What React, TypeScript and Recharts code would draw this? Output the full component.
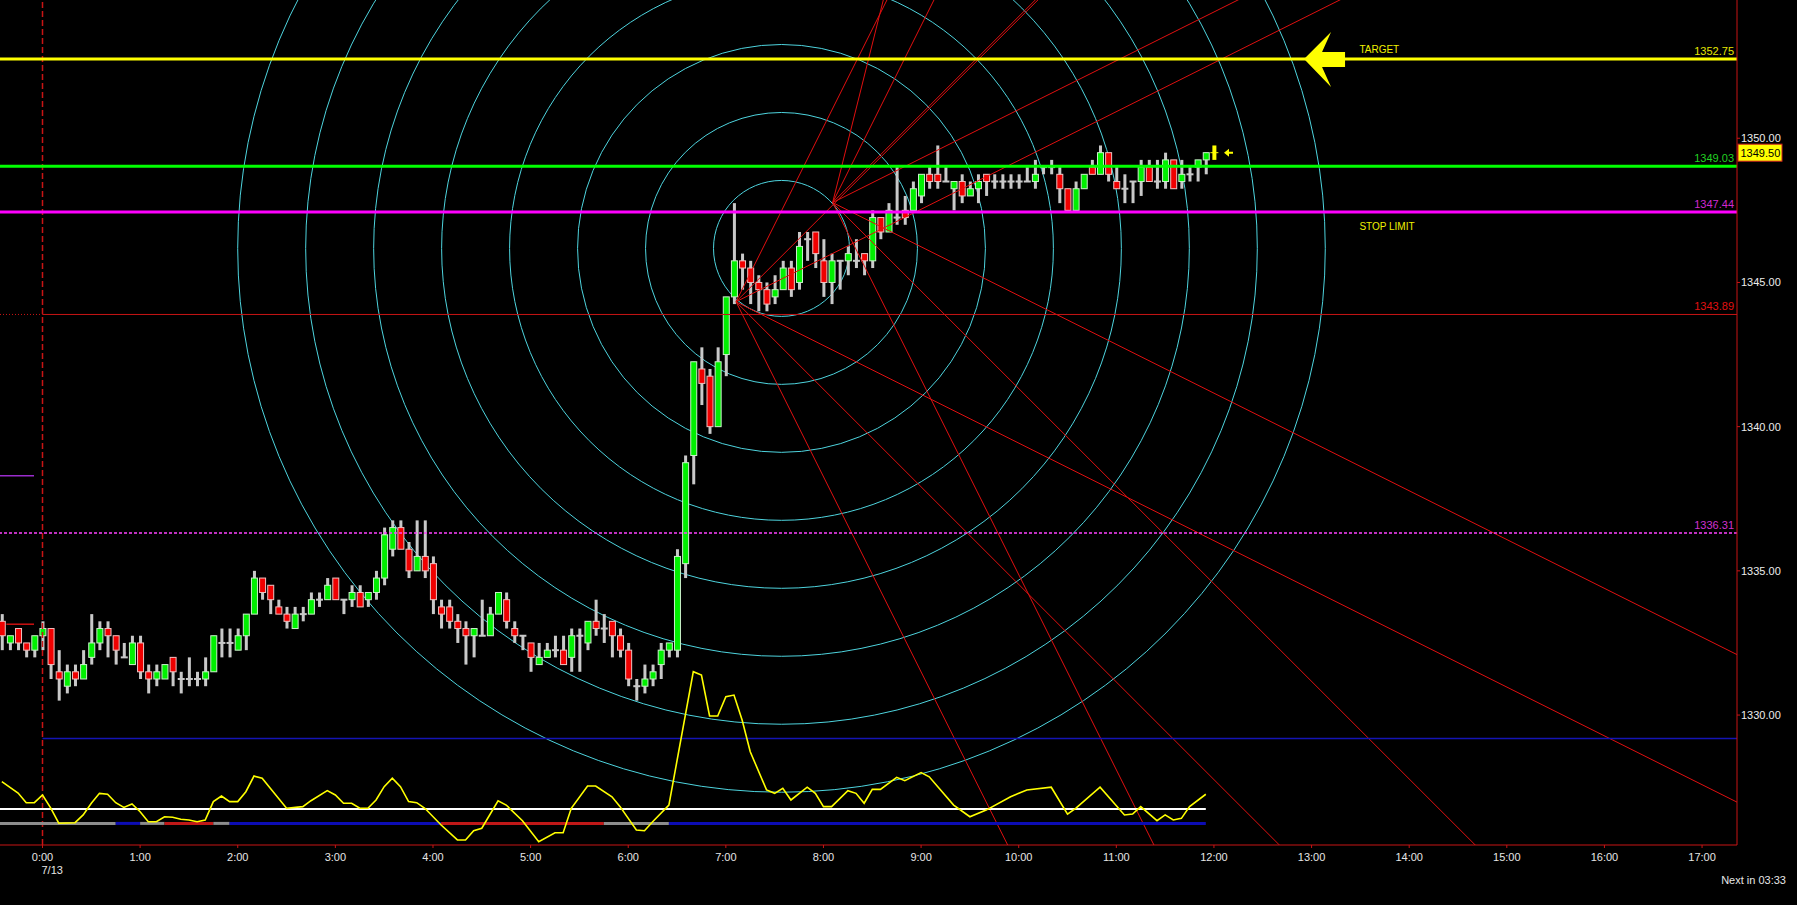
import * as Recharts from 'recharts';
import { ComposedChart, Bar, Line, XAxis, YAxis, ReferenceLine, Customized } from 'recharts';

const RC: any = Recharts;

// 5-minute bars; bar 0 is 0:00 on 7/13, the first one is 23:35 the evening before
const FIRST_BAR = -5;

const opens = [
  1333.25, 1332.5, 1333.0, 1332.5, 1332.25, 1332.75, 1333.0, 1331.5, 1331.0, 1331.5,
  1331.25, 1332.0, 1332.5, 1333.0, 1332.75, 1332.0, 1331.75, 1332.5, 1331.5, 1331.25,
  1331.25, 1332.0, 1331.25, 1331.25, 1331.25, 1331.25, 1331.5, 1332.5, 1332.5, 1332.25,
  1332.75, 1333.5, 1334.75, 1334.5, 1333.75, 1333.5, 1333.0, 1333.5, 1333.5, 1334.0,
  1334.0, 1334.75, 1334.0, 1334.0, 1334.25, 1334.0, 1334.25, 1334.75, 1335.75, 1336.5,
  1335.75, 1335.0, 1335.5, 1335.25, 1333.75, 1333.75, 1333.25, 1333.0, 1332.75, 1332.75,
  1332.75, 1333.5, 1334.0, 1333.0, 1332.75, 1332.5, 1331.75, 1332.0, 1332.25, 1332.25,
  1332.0, 1332.75, 1332.5, 1333.25, 1333.0, 1333.25, 1332.75, 1332.25, 1331.0, 1331.0,
  1331.25, 1331.75, 1332.25, 1332.25, 1335.25, 1339.0, 1342.0, 1341.75, 1340.0, 1342.5,
  1344.5, 1345.75, 1345.5, 1345.0, 1344.75, 1344.5, 1344.75, 1345.5, 1345.0, 1346.5,
  1346.75, 1345.75, 1345.0, 1345.75, 1345.75, 1345.75, 1346.0, 1345.75, 1347.25, 1346.75,
  1347.25, 1347.5, 1347.5, 1348.0, 1348.75, 1348.75, 1348.5, 1348.25, 1348.5, 1348.0,
  1348.25, 1348.75, 1348.5, 1348.5, 1348.5, 1348.5, 1348.5, 1348.5, 1349.0, 1349.0,
  1348.75, 1348.25, 1347.5, 1348.25, 1349.0, 1348.75, 1349.5, 1348.5, 1348.25, 1348.5,
  1348.5, 1349.0, 1348.5, 1348.5, 1349.25, 1348.5, 1348.75, 1349.0, 1349.25, 1349.5,
];
const highs = [
  1333.5, 1332.75, 1333.0, 1332.5, 1332.75, 1333.25, 1333.0, 1332.25, 1331.75, 1331.75,
  1332.25, 1333.5, 1333.25, 1333.25, 1332.75, 1332.5, 1332.75, 1332.75, 1331.75, 1331.75,
  1331.75, 1332.0, 1331.5, 1332.0, 1331.5, 1332.0, 1332.75, 1333.0, 1333.0, 1333.0,
  1333.5, 1335.0, 1334.75, 1334.5, 1334.0, 1333.75, 1333.75, 1333.75, 1334.25, 1334.25,
  1334.75, 1334.75, 1334.0, 1334.5, 1334.5, 1334.25, 1335.0, 1336.5, 1336.75, 1336.75,
  1336.0, 1336.75, 1336.75, 1335.5, 1334.0, 1334.0, 1333.5, 1333.25, 1333.0, 1334.0,
  1333.75, 1334.25, 1334.25, 1333.25, 1332.75, 1332.5, 1332.5, 1332.5, 1332.75, 1332.75,
  1333.0, 1333.0, 1333.25, 1334.0, 1333.5, 1333.25, 1333.0, 1332.5, 1331.25, 1331.75,
  1331.75, 1332.5, 1332.5, 1335.75, 1339.0, 1342.25, 1342.75, 1342.0, 1342.75, 1344.5,
  1347.75, 1346.0, 1345.75, 1345.25, 1345.0, 1345.25, 1345.75, 1345.75, 1346.75, 1346.75,
  1346.75, 1346.5, 1346.0, 1345.75, 1346.25, 1346.5, 1346.0, 1347.5, 1347.25, 1347.75,
  1349.0, 1348.0, 1348.5, 1348.75, 1349.0, 1349.75, 1349.0, 1348.5, 1348.75, 1348.5,
  1348.75, 1348.75, 1348.75, 1348.75, 1348.75, 1348.75, 1349.0, 1349.25, 1349.0, 1349.25,
  1349.0, 1348.25, 1348.5, 1348.75, 1349.25, 1349.75, 1349.5, 1349.0, 1348.75, 1348.5,
  1349.25, 1349.25, 1349.25, 1349.5, 1349.25, 1349.25, 1349.0, 1349.25, 1349.5, 1349.75,
];
const lows = [
  1332.25, 1332.25, 1332.25, 1332.0, 1332.0, 1332.25, 1331.25, 1330.5, 1330.75, 1331.0,
  1331.25, 1331.75, 1332.25, 1332.0, 1331.75, 1332.0, 1331.75, 1331.25, 1330.75, 1331.0,
  1331.25, 1331.0, 1330.75, 1331.0, 1331.0, 1331.0, 1331.5, 1332.0, 1332.0, 1332.25,
  1332.25, 1333.5, 1334.0, 1333.5, 1333.5, 1333.0, 1333.0, 1333.25, 1333.5, 1333.75,
  1334.0, 1334.0, 1333.5, 1333.75, 1333.75, 1333.75, 1334.0, 1334.5, 1335.5, 1335.75,
  1334.75, 1335.0, 1334.75, 1333.5, 1333.0, 1333.0, 1332.5, 1331.75, 1332.0, 1332.75,
  1332.75, 1333.5, 1333.0, 1332.5, 1332.25, 1331.5, 1331.75, 1332.0, 1332.0, 1331.75,
  1331.5, 1331.5, 1332.25, 1332.75, 1332.5, 1332.0, 1332.0, 1331.0, 1330.5, 1330.75,
  1331.0, 1331.25, 1332.0, 1332.0, 1334.75, 1338.0, 1340.75, 1339.75, 1340.0, 1341.75,
  1344.25, 1344.75, 1344.25, 1344.0, 1344.0, 1344.25, 1344.75, 1344.5, 1344.75, 1345.75,
  1345.5, 1344.5, 1344.25, 1344.75, 1345.25, 1345.5, 1345.25, 1345.5, 1346.5, 1346.75,
  1347.0, 1347.0, 1347.5, 1347.75, 1348.25, 1348.25, 1348.5, 1347.5, 1347.75, 1348.0,
  1347.75, 1348.0, 1348.25, 1348.25, 1348.25, 1348.25, 1348.5, 1348.25, 1348.75, 1348.75,
  1347.75, 1347.5, 1347.5, 1348.25, 1348.75, 1348.75, 1348.5, 1348.25, 1347.75, 1347.75,
  1348.0, 1348.5, 1348.25, 1348.25, 1348.25, 1348.25, 1348.5, 1348.5, 1348.75, 1349.25,
];
const closes = [
  1332.75, 1332.75, 1332.5, 1332.25, 1332.75, 1333.0, 1331.75, 1331.25, 1331.5, 1331.25,
  1331.75, 1332.5, 1333.0, 1332.75, 1332.25, 1332.0, 1332.5, 1331.5, 1331.25, 1331.5,
  1331.75, 1331.5, 1331.25, 1331.25, 1331.25, 1331.5, 1332.75, 1332.5, 1332.5, 1332.75,
  1333.5, 1334.75, 1334.25, 1334.0, 1333.5, 1333.25, 1333.5, 1333.5, 1334.0, 1334.0,
  1334.5, 1334.0, 1334.0, 1334.25, 1333.75, 1334.25, 1334.75, 1336.25, 1336.5, 1335.75,
  1335.0, 1335.5, 1335.0, 1334.0, 1333.5, 1333.25, 1333.0, 1332.75, 1333.0, 1332.75,
  1333.5, 1334.25, 1333.25, 1332.75, 1332.75, 1332.0, 1332.0, 1332.25, 1332.25, 1331.75,
  1332.75, 1332.75, 1333.25, 1333.0, 1333.0, 1332.75, 1332.25, 1331.25, 1331.0, 1331.25,
  1331.5, 1332.25, 1332.5, 1335.5, 1338.75, 1342.25, 1341.5, 1340.0, 1342.25, 1344.5,
  1345.75, 1345.5, 1345.0, 1344.75, 1344.25, 1344.75, 1345.5, 1344.75, 1346.25, 1346.5,
  1346.0, 1345.0, 1345.75, 1345.75, 1346.0, 1345.75, 1345.75, 1347.25, 1346.75, 1347.5,
  1347.25, 1347.25, 1348.25, 1348.75, 1348.5, 1348.5, 1348.5, 1348.5, 1348.0, 1348.25,
  1348.5, 1348.5, 1348.5, 1348.5, 1348.5, 1348.5, 1348.5, 1348.75, 1349.0, 1349.0,
  1348.25, 1347.5, 1348.25, 1348.75, 1348.75, 1349.5, 1348.75, 1348.25, 1348.25, 1348.5,
  1349.0, 1348.5, 1348.5, 1349.25, 1348.25, 1348.75, 1348.75, 1349.25, 1349.5, 1349.5,
];

// lower oscillator, read at the bars where it turns
const oscBars = [
  -5, -3, -2, -1, 0, 1, 2, 4, 5, 6, 7, 8, 9, 10, 11, 12, 13, 14, 15, 16, 17, 18, 19, 20,
  21, 22, 23, 24, 25, 26, 27, 28, 30, 32, 33, 35, 36, 37, 38, 39, 40, 41, 42, 43, 44, 45,
  46, 47, 49, 51, 52, 53, 54, 56, 57, 59, 61, 63, 64, 65, 67, 68, 70, 71, 73, 74, 75, 77,
  80, 81, 82, 83, 84, 85, 86, 87, 89, 90, 91, 92, 94, 95, 96, 97, 99, 100, 101, 102, 103,
  105, 106, 108, 109, 112, 114, 116, 119, 121, 124, 126, 127, 130, 133, 134, 135, 137,
  138, 139, 140, 141, 143,
];
const oscValues = [
  35.2, 28.9, 23.5, 23.5, 27.8, 20.6, 12.1, 12.4, 16.7, 23.2, 28.7, 28.2, 23.5, 20.9, 22.8,
  18.5, 12.9, 12.9, 15.7, 15.4, 14.3, 13.9, 12.9, 13.9, 24.1, 27.2, 24.1, 24.1, 29.6, 38.3,
  37.1, 31.5, 20.4, 21.3, 24.6, 30.2, 27.8, 23.2, 23.2, 20.4, 20.4, 25.0, 32.4, 37.1, 32.4,
  24.1, 23.5, 20.4, 11.1, 2.8, 2.8, 7.9, 9.3, 24.6, 22.2, 13.5, 1.8, 6.8, 6.8, 20.4, 32.8,
  32.8, 26.8, 21.3, 8.3, 7.9, 12.9, 22.2, 96.3, 94.4, 71.7, 71.7, 82.4, 83.3, 69.4, 51.8,
  30.6, 28.7, 31.5, 25.0, 32.1, 28.7, 21.3, 21.3, 30.2, 28.7, 23.2, 30.9, 30.9, 37.6, 35.7,
  40.2, 37.9, 22.2, 15.7, 19.4, 26.8, 30.6, 32.1, 17.2, 20.4, 32.1, 16.7, 17.2, 21.3, 13.5,
  16.7, 13.9, 14.8, 21.3, 28.2,
];
const OSC_SIGNAL = 20;
const OSC_STATE = 12;
const stateBars = [-5.25, 9, 12, 15, 21, 23, 49, 69, 77, 143];
const stateColors = ['#8c8c8c', '#0c0cb4', '#8c8c8c', '#c01818', '#8c8c8c', '#0c0cb4', '#c01818', '#8c8c8c', '#0c0cb4'];

const hourTicks = [0, 1, 2, 3, 4, 5, 6, 7, 8, 9, 10, 11, 12, 13, 14, 15, 16, 17];
const priceTicks = [1330, 1335, 1340, 1345, 1350];

// price levels drawn across the chart
const TARGET = 1352.75;
const ENTRY = 1349.03;
const STOP = 1347.44;
const PIVOT = 1343.89;
const SUPPORT = 1336.31;
const LOW_BAND = 1329.19;
const LAST = 1349.5;

// Fibonacci-style circles
const circleT = 7.57;
const circleP = 1346.18;
const circleStep = 2.357;
const circleCount = 8;

// Gann fans from two pivots
const GANN_1X1 = 3.384; // points per hour for the 45 degree line
const fanT = [8.094, 7.104];
const fanP = [1347.77, 1344.33];
const fanUp = [[4, 2, 1, 0.5], [2, 1, 0.5]];
const fanDown = [0.5, 1, 2];

const X_MIN = -0.4354;
const X_MAX = 17.358;
const Y_MIN = 1325.494;
const Y_MAX = 1354.794;
const OSC_TOP = 469.44;

const FONT = 'Liberation Sans, Arial, sans-serif';
const RED = '#c81414';

const bars = opens.map((o, i) => ({
  t: (FIRST_BAR + i) / 12,
  range: [lows[i], highs[i]],
  open: o,
  high: highs[i],
  low: lows[i],
  close: closes[i],
  live: i === opens.length - 1,
}));

const oscRows = oscBars.map((k, j) => ({ t: k / 12, osc: oscValues[j] }));

function Candle(props: any) {
  const { x, y, width, height, payload } = props;
  if (x == null || !payload) return null;
  const cx = x + width / 2;
  const top = Math.min(y, y + height);
  const h = Math.abs(height);
  const span = payload.high - payload.low;
  const yOf = (p: number) => (span > 0 ? top + ((payload.high - p) / span) * h : top);
  if (payload.live) {
    return (
      <g>
        <rect x={cx - 2} y={top} width={4} height={Math.max(h, 1)} fill="#ffff00" />
        <line x1={cx - 4} x2={cx + 4} y1={yOf(payload.close)} y2={yOf(payload.close)} stroke="#ffff00" />
      </g>
    );
  }
  const o = payload.open;
  const c = payload.close;
  const wick = <rect x={cx - 1.5} y={top} width={3} height={h} fill="#c8c8c8" />;
  if (o === c) {
    return (
      <g>
        {wick}
        <line x1={cx - 3.5} x2={cx + 3.5} y1={yOf(o)} y2={yOf(o)} stroke="#c8c8c8" strokeWidth={2} />
      </g>
    );
  }
  const up = c > o;
  const bt = yOf(Math.max(o, c));
  const bb = yOf(Math.min(o, c));
  return (
    <g>
      {wick}
      <rect
        x={cx - 3}
        y={bt}
        width={6}
        height={Math.max(bb - bt, 1)}
        fill={up ? '#00f000' : '#f00000'}
        stroke={up ? '#c8f0c8' : '#f0c0c0'}
        strokeWidth={1}
      />
    </g>
  );
}

function TimeTick(props: any) {
  const { x, y, payload } = props;
  return (
    <g>
      <text x={x} y={y + 11} textAnchor="middle" fill="#e6e6e6" fontSize={11} fontFamily={FONT}>
        {`${payload.value}:00`}
      </text>
      {payload.value === 0 && (
        <text x={x - 1} y={y + 23.5} textAnchor="start" fill="#e6e6e6" fontSize={11} fontFamily={FONT}>
          7/13
        </text>
      )}
    </g>
  );
}

function useScales() {
  const plot = RC.usePlotArea ? RC.usePlotArea() : RC.useOffset ? RC.useOffset() : null;
  const xs = RC.useXAxisScale ? RC.useXAxisScale('t') : null;
  const ys = RC.useYAxisScale ? RC.useYAxisScale('price') : null;
  const left = plot?.x ?? plot?.left ?? 0;
  const top = plot?.y ?? plot?.top ?? 0;
  const w = plot?.width ?? 1737;
  const h = plot?.height ?? 845;
  const sx = typeof xs === 'function' ? xs : (t: number) => left + ((t - X_MIN) / (X_MAX - X_MIN)) * w;
  const sy = typeof ys === 'function' ? ys : (p: number) => top + ((Y_MAX - p) / (Y_MAX - Y_MIN)) * h;
  return { sx, sy, left, top, w, h };
}

const levelLabels: [number, string][] = [
  [TARGET, '#e6e600'],
  [ENTRY, '#22d022'],
  [STOP, '#d028d0'],
  [PIVOT, '#e01010'],
  [SUPPORT, '#d030d0'],
];

function Overlay() {
  const { sx, sy, left, top, w, h } = useScales();
  const right = left + w;
  const ccx = sx(circleT);
  const ccy = sy(circleP);
  const rings = Array.from({ length: circleCount }, (_, i) => Math.abs(sy(circleP + circleStep * (i + 1)) - ccy));
  const ax = sx(12.923);
  const ay = sy(TARGET);
  const bx = sx(12.103);
  const by = sy(LAST);
  const txt = sx(13.49);
  return (
    <g>
      <defs>
        <clipPath id="plot-clip">
          <rect x={left} y={top} width={w} height={h} />
        </clipPath>
      </defs>
      <g clipPath="url(#plot-clip)">
        {rings.map((r, i) => (
          <circle key={i} cx={ccx} cy={ccy} r={r} fill="none" stroke="#4ed4de" strokeWidth={1} />
        ))}
      </g>
      {levelLabels.map(([v, col]) => (
        <text key={v} x={right - 3} y={sy(v) - 4} textAnchor="end" fill={col} fontSize={11} fontFamily={FONT}>
          {v.toFixed(2)}
        </text>
      ))}
      <text x={txt} y={sy(TARGET) - 6} fill="#f0f000" fontSize={10} fontFamily={FONT}>TARGET</text>
      <text x={txt} y={sy(STOP) + 18} fill="#f0f000" fontSize={10} fontFamily={FONT}>STOP LIMIT</text>
      <polygon
        points={`${ax},${ay} ${ax + 27},${ay - 27} ${ax + 18},${ay - 7} ${ax + 41},${ay - 7} ${ax + 41},${ay + 8} ${ax + 18},${ay + 8} ${ax + 27},${ay + 28}`}
        fill="#ffff00"
      />
      <polygon
        points={`${bx},${by} ${bx + 5},${by - 4} ${bx + 5},${by - 1} ${bx + 9},${by - 1} ${bx + 9},${by + 1} ${bx + 5},${by + 1} ${bx + 5},${by + 4}`}
        fill="#ffff00"
      />
      <rect x={right + 1} y={sy(LAST) - 8.5} width={44} height={17} fill="#ffff00" stroke="#d02020" strokeWidth={1} />
      <text x={right + 3.5} y={sy(LAST) + 4} fill="#000" fontSize={11} fontFamily={FONT}>
        {LAST.toFixed(2)}
      </text>
      <text x={1786} y={top + h + 39} textAnchor="end" fill="#e6e6e6" fontSize={11} fontFamily={FONT}>
        Next in 03:33
      </text>
    </g>
  );
}

const RAY_HOURS = 20;
const rays: { t: number; p: number; slope: number }[] = [];
fanT.forEach((t, i) => {
  fanUp[i].forEach((r) => rays.push({ t, p: fanP[i], slope: r }));
  fanDown.forEach((r) => rays.push({ t, p: fanP[i], slope: -r }));
});

export default function App() {
  return (
    <div style={{ position: 'absolute', left: 0, top: 0, width: 1797, height: 905, background: '#000' }}>
      <ComposedChart width={1797} height={905} data={bars} margin={{ top: 0, right: 0, bottom: 0, left: 0 }}>
        <XAxis
          xAxisId="t"
          dataKey="t"
          type="number"
          domain={[X_MIN, X_MAX]}
          allowDataOverflow
          ticks={hourTicks}
          interval={0}
          height={60}
          tickSize={3}
          axisLine={{ stroke: RED }}
          tickLine={{ stroke: RED }}
          tick={<TimeTick />}
        />
        <YAxis
          yAxisId="price"
          orientation="right"
          width={60}
          type="number"
          domain={[Y_MIN, Y_MAX]}
          allowDataOverflow
          ticks={priceTicks}
          interval={0}
          tickSize={3}
          tickMargin={1}
          axisLine={{ stroke: RED }}
          tickLine={{ stroke: RED }}
          tickFormatter={(v: number) => v.toFixed(2)}
          tick={{ fill: '#ececec', fontSize: 11, fontFamily: FONT }}
        />
        <YAxis yAxisId="osc" hide type="number" domain={[0, OSC_TOP]} allowDataOverflow />

        <Bar
          xAxisId="t"
          yAxisId="price"
          dataKey="range"
          barSize={7}
          shape={<Candle />}
          isAnimationActive={false}
        />

        <Customized component={Overlay} />

        {rays.map((r, i) => (
          <ReferenceLine
            key={`ray${i}`}
            xAxisId="t"
            yAxisId="price"
            ifOverflow="hidden"
            segment={[
              { x: r.t, y: r.p },
              { x: r.t + RAY_HOURS, y: r.p + r.slope * GANN_1X1 * RAY_HOURS },
            ]}
            stroke="#e01010"
            strokeWidth={1}
          />
        ))}

        <ReferenceLine xAxisId="t" yAxisId="price" x={0} stroke={RED} strokeWidth={1.5} strokeDasharray="6 3" />
        <ReferenceLine xAxisId="t" yAxisId="price" y={TARGET} stroke="#ffff00" strokeWidth={3} />
        <ReferenceLine xAxisId="t" yAxisId="price" y={ENTRY} stroke="#00ff00" strokeWidth={3} />
        <ReferenceLine xAxisId="t" yAxisId="price" y={STOP} stroke="#ff00ff" strokeWidth={3} />
        <ReferenceLine
          xAxisId="t"
          yAxisId="price"
          segment={[{ x: 0, y: PIVOT }, { x: X_MAX, y: PIVOT }]}
          stroke={RED}
          strokeWidth={1}
        />
        <ReferenceLine
          xAxisId="t"
          yAxisId="price"
          segment={[{ x: X_MIN, y: PIVOT }, { x: 0, y: PIVOT }]}
          stroke={RED}
          strokeWidth={1}
          strokeDasharray="1 2"
        />
        <ReferenceLine xAxisId="t" yAxisId="price" y={SUPPORT} stroke="#ff40ff" strokeWidth={1.5} strokeDasharray="3 2" />
        <ReferenceLine
          xAxisId="t"
          yAxisId="price"
          segment={[{ x: 0, y: LOW_BAND }, { x: X_MAX, y: LOW_BAND }]}
          stroke="#1414b4"
          strokeWidth={1.5}
        />
        <ReferenceLine
          xAxisId="t"
          yAxisId="price"
          segment={[{ x: -0.37, y: 1333.15 }, { x: -0.087, y: 1333.15 }]}
          stroke="#cc1010"
          strokeWidth={1.5}
        />
        <ReferenceLine
          xAxisId="t"
          yAxisId="price"
          segment={[{ x: X_MIN, y: 1338.3 }, { x: -0.087, y: 1338.3 }]}
          stroke="#9a2ccc"
          strokeWidth={1.5}
        />

        <ReferenceLine
          xAxisId="t"
          yAxisId="osc"
          segment={[{ x: X_MIN, y: OSC_SIGNAL }, { x: 143 / 12, y: OSC_SIGNAL }]}
          stroke="#ffffff"
          strokeWidth={2}
        />
        {stateColors.map((col, i) => (
          <ReferenceLine
            key={`st${i}`}
            xAxisId="t"
            yAxisId="osc"
            ifOverflow="hidden"
            segment={[
              { x: stateBars[i] / 12, y: OSC_STATE },
              { x: stateBars[i + 1] / 12, y: OSC_STATE },
            ]}
            stroke={col}
            strokeWidth={3}
          />
        ))}

        <Line
          xAxisId="t"
          yAxisId="osc"
          data={oscRows}
          dataKey="osc"
          type="linear"
          stroke="#ffff00"
          strokeWidth={1.6}
          dot={false}
          activeDot={false}
          isAnimationActive={false}
        />
      </ComposedChart>
    </div>
  );
}
